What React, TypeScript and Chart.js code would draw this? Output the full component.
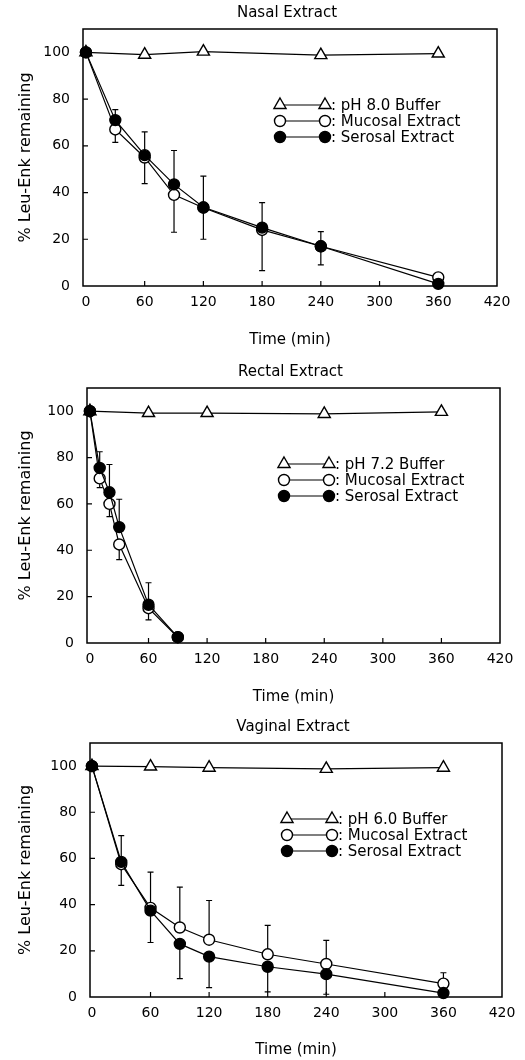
import React, { useEffect, useRef } from "react";
import { Chart, registerables } from "chart.js";

Chart.register(...registerables);

const xTicks = [0, 60, 120, 180, 240, 300, 360, 420];
const yTicks = [0, 20, 40, 60, 80, 100];
const bufferTimes = [0, 60, 120, 240, 360];

// Nasal extract
const nasalTimes = [0, 30, 60, 90, 120, 180, 240, 360];
const nasalBuffer = [100, 99, 100.3, 98.8, 99.5];
const nasalMucosal = [100, 67, 55, 39, 33.5, 24, 17, 3.7];
const nasalSerosal = [100, 71, 56, 43.5, 33.7, 25, 17, 0.9];
const nasalSerosalSD = [0, 4.5, 10, 14.5, 13.3, 10.7, 6.3, 0];
const nasalMucosalSD = [0, 5.5, 11.2, 16, 13.5, 17.4, 8, 0];

// Rectal extract
const rectalTimes = [0, 10, 20, 30, 60, 90];
const rectalBuffer = [100, 99.2, 99.2, 98.8, 99.7];
const rectalMucosal = [100, 71, 60, 42.5, 15, 2.5];
const rectalSerosal = [100, 75.5, 65, 50, 16.5, 2.5];
const rectalSerosalSD = [0, 7, 12, 12, 9.5, 0];
const rectalMucosalSD = [0, 4, 5.5, 6.5, 5, 0];

// Vaginal extract
const vaginalTimes = [0, 30, 60, 90, 120, 180, 240, 360];
const vaginalBuffer = [100, 99.8, 99.3, 98.8, 99.3];
const vaginalMucosal = [100, 57.5, 38.6, 30.1, 24.8, 18.5, 14.3, 5.8];
const vaginalSerosal = [100, 58.5, 37.4, 23, 17.5, 13.1, 9.9, 1.7];
const vaginalMucosalSD = [0, 12.4, 15.5, 17.5, 17, 12.5, 10.2, 4.7];
const vaginalSerosalSD = [0, 10.2, 13.8, 15, 13.4, 10.9, 8.7, 0];

const FONT = "'DejaVu Sans', 'Liberation Sans', sans-serif";

type Panel = {
  title: string;
  bufferLabel: string;
  times: number[];
  buffer: number[];
  mucosal: number[];
  serosal: number[];
  mucosalSD: number[];
  mucosalDir: number;
  serosalSD: number[];
  serosalDir: number;
  canvasTop: number;
  canvasHeight: number;
  left: number;
  right: number;
  top: number;
  bottom: number;
  xMin: number;
  xTitlePad: number;
};

const panels: Panel[] = [
  {
    title: "Nasal Extract",
    bufferLabel: "pH 8.0 Buffer",
    times: nasalTimes,
    buffer: nasalBuffer,
    mucosal: nasalMucosal,
    serosal: nasalSerosal,
    mucosalSD: nasalMucosalSD,
    mucosalDir: -1,
    serosalSD: nasalSerosalSD,
    serosalDir: 1,
    canvasTop: 0,
    canvasHeight: 355,
    left: 83,
    right: 497,
    top: 29,
    bottom: 286,
    xMin: -3,
    xTitlePad: 6,
  },
  {
    title: "Rectal Extract",
    bufferLabel: "pH 7.2 Buffer",
    times: rectalTimes,
    buffer: rectalBuffer,
    mucosal: rectalMucosal,
    serosal: rectalSerosal,
    mucosalSD: rectalMucosalSD,
    mucosalDir: -1,
    serosalSD: rectalSerosalSD,
    serosalDir: 1,
    canvasTop: 355,
    canvasHeight: 355,
    left: 87,
    right: 500,
    top: 33,
    bottom: 288,
    xMin: -3,
    xTitlePad: 4,
  },
  {
    title: "Vaginal Extract",
    bufferLabel: "pH 6.0 Buffer",
    times: vaginalTimes,
    buffer: vaginalBuffer,
    mucosal: vaginalMucosal,
    serosal: vaginalSerosal,
    mucosalSD: vaginalMucosalSD,
    mucosalDir: 1,
    serosalSD: vaginalSerosalSD,
    serosalDir: -1,
    canvasTop: 710,
    canvasHeight: 350,
    left: 90,
    right: 502,
    top: 33,
    bottom: 287,
    xMin: -2,
    xTitlePad: 1,
  },
];

function drawMarker(ctx: CanvasRenderingContext2D, kind: string, x: number, y: number) {
  ctx.beginPath();
  if (kind === "tri") {
    const r = 7;
    ctx.moveTo(x, y - r);
    ctx.lineTo(x + r * 0.866, y + r / 2);
    ctx.lineTo(x - r * 0.866, y + r / 2);
    ctx.closePath();
    ctx.fillStyle = "#fff";
  } else {
    ctx.arc(x, y, 5.5, 0, Math.PI * 2);
    ctx.fillStyle = kind === "filled" ? "#000" : "#fff";
  }
  ctx.fill();
  ctx.lineWidth = 1.4;
  ctx.strokeStyle = "#000";
  ctx.stroke();
}

function makeDecor(p: Panel) {
  return {
    id: "decor",
    beforeDatasetsDraw(chart: any) {
      const { ctx, chartArea: a, scales } = chart;
      const xs = scales.x;
      const ys = scales.y;
      ctx.save();
      ctx.strokeStyle = "#000";
      ctx.lineWidth = 1.5;
      ctx.strokeRect(a.left, a.top, a.right - a.left, a.bottom - a.top);
      ctx.lineWidth = 1.2;
      ctx.beginPath();
      xTicks.forEach((v) => {
        const x = xs.getPixelForValue(v);
        if (x > a.left + 3 && x < a.right - 3) {
          ctx.moveTo(x, a.bottom);
          ctx.lineTo(x, a.bottom - 5);
        }
      });
      yTicks.forEach((v) => {
        const y = ys.getPixelForValue(v);
        if (y < a.bottom - 3 && y > a.top + 3) {
          ctx.moveTo(a.left, y);
          ctx.lineTo(a.left + 5, y);
        }
      });
      ctx.stroke();
      ctx.lineWidth = 1.2;
      chart.data.datasets.forEach((ds: any, di: number) => {
        const sd = ds.errors;
        if (!sd) return;
        const meta = chart.getDatasetMeta(di);
        meta.data.forEach((el: any, i: number) => {
          const e = sd[i];
          if (!e) return;
          const v = ds.data[i].y;
          const y2 = ys.getPixelForValue(v + ds.errDir * e);
          ctx.beginPath();
          ctx.moveTo(el.x, el.y);
          ctx.lineTo(el.x, y2);
          ctx.moveTo(el.x - 3, y2);
          ctx.lineTo(el.x + 3, y2);
          ctx.stroke();
        });
      });
      ctx.restore();
    },
    afterDatasetsDraw(chart: any) {
      const { ctx, chartArea: a } = chart;
      ctx.save();
      ctx.fillStyle = "#000";
      ctx.font = `15px ${FONT}`;
      ctx.textAlign = "center";
      ctx.textBaseline = "middle";
      ctx.fillText(p.title, (a.left + a.right) / 2 - 3, a.top - 16);
      const rows = [
        { kind: "tri", label: ": " + p.bufferLabel },
        { kind: "open", label: ": Mucosal Extract" },
        { kind: "filled", label: ": Serosal Extract" },
      ];
      const x1 = a.left + 197;
      const x2 = a.left + 242;
      rows.forEach((r, i) => {
        const y = a.top + 76 + i * 16;
        ctx.beginPath();
        ctx.lineWidth = 1.2;
        ctx.strokeStyle = "#000";
        ctx.moveTo(x1, y);
        ctx.lineTo(x2, y);
        ctx.stroke();
        drawMarker(ctx, r.kind, x1, y);
        drawMarker(ctx, r.kind, x2, y);
        ctx.fillStyle = "#000";
        ctx.font = `15px ${FONT}`;
        ctx.textAlign = "left";
        ctx.textBaseline = "middle";
        ctx.fillText(r.label, x2 + 6, y + 1);
      });
      ctx.restore();
    },
  };
}

function PanelChart({ p }: { p: Panel }) {
  const ref = useRef<HTMLCanvasElement>(null);
  useEffect(() => {
    if (!ref.current) return;
    const pts = (ts: number[], vs: number[]) => ts.map((t, i) => ({ x: t, y: vs[i] }));
    const chart = new Chart(ref.current, {
      type: "line",
      data: {
        datasets: [
          {
            label: "Serosal Extract",
            data: pts(p.times, p.serosal),
            borderColor: "#000",
            borderWidth: 1.2,
            backgroundColor: "#000",
            pointBackgroundColor: "#000",
            pointBorderColor: "#000",
            pointBorderWidth: 1.4,
            pointRadius: 5.5,
            pointStyle: "circle",
            tension: 0,
            clip: false,
            errors: p.serosalSD,
            errDir: p.serosalDir,
          } as any,
          {
            label: "Mucosal Extract",
            data: pts(p.times, p.mucosal),
            borderColor: "#000",
            borderWidth: 1.2,
            backgroundColor: "#fff",
            pointBackgroundColor: "#fff",
            pointBorderColor: "#000",
            pointBorderWidth: 1.4,
            pointRadius: 5.5,
            pointStyle: "circle",
            tension: 0,
            clip: false,
            errors: p.mucosalSD,
            errDir: p.mucosalDir,
          } as any,
          {
            label: p.bufferLabel,
            data: pts(bufferTimes, p.buffer),
            borderColor: "#000",
            borderWidth: 1.2,
            backgroundColor: "#fff",
            pointBackgroundColor: "#fff",
            pointBorderColor: "#000",
            pointBorderWidth: 1.4,
            pointRadius: 7,
            pointStyle: "triangle",
            tension: 0,
            clip: false,
          } as any,
        ],
      },
      options: {
        responsive: false,
        animation: false,
        events: [],
        layout: {
          padding: { left: 0, right: 525 - p.right, top: p.top, bottom: 0 },
        },
        plugins: {
          legend: { display: false },
          title: { display: false },
          tooltip: { enabled: false },
        },
        scales: {
          x: {
            type: "linear",
            min: p.xMin,
            max: 420,
            afterBuildTicks: (s: any) => {
              s.ticks = xTicks.map((v) => ({ value: v }));
            },
            afterFit: (s: any) => {
              s.height = p.canvasHeight - p.bottom;
            },
            grid: { display: false, drawTicks: false },
            border: { display: false },
            ticks: {
              padding: 8,
              color: "#000",
              font: { family: FONT, size: 14 },
              maxRotation: 0,
              autoSkip: false,
            },
            title: {
              display: true,
              text: "Time (min)",
              color: "#000",
              font: { family: FONT, size: 15 },
              padding: { top: 0, bottom: p.xTitlePad },
            },
          },
          y: {
            type: "linear",
            min: 0,
            max: 110,
            afterBuildTicks: (s: any) => {
              s.ticks = yTicks.map((v) => ({ value: v }));
            },
            afterFit: (s: any) => {
              s.width = p.left;
            },
            grid: { display: false, drawTicks: false },
            border: { display: false },
            ticks: {
              padding: 13,
              color: "#000",
              font: { family: FONT, size: 14 },
            },
            title: {
              display: true,
              text: "% Leu-Enk remaining",
              color: "#000",
              font: { family: FONT, size: 16 },
              padding: { top: 16, bottom: 0 },
            },
          },
        },
      },
      plugins: [makeDecor(p)],
    } as any);
    return () => chart.destroy();
  }, [p]);
  return (
    <canvas
      ref={ref}
      width={525}
      height={p.canvasHeight}
      style={{ position: "absolute", left: 0, top: p.canvasTop, width: 525, height: p.canvasHeight }}
    />
  );
}

export default function App() {
  return (
    <div
      style={{
        position: "absolute",
        left: 0,
        top: 0,
        width: 525,
        height: 1060,
        background: "#fff",
        overflow: "hidden",
      }}
    >
      {panels.map((p) => (
        <PanelChart key={p.title} p={p} />
      ))}
    </div>
  );
}
